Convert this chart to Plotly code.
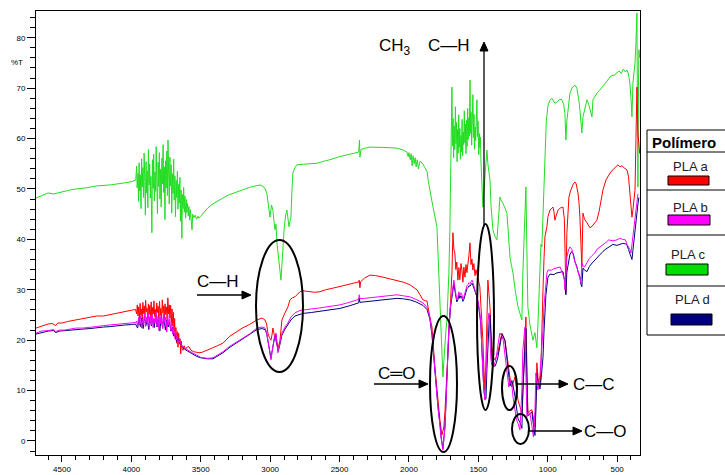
import math
import plotly.graph_objects as go

# ---------------- data (wavenumber cm-1, %T) ----------------
wn_c = [4687,4640,4600,4560,4520,4480,4440,4400,4330,4250,4150,4050,3990,
        3968,3962,3958,3952,3948,3944,3940,3935,3930,3926,3921,3917,3912,3908,3903,3899,3894,3890,3886,3881,3877,3872,3868,3863,3859,3852,3848,3843,3839,3834,3830,3825,3821,3816,3812,3807,3803,3798,3794,3789,3785,3780,3776,3771,3767,3762,3758,3753,3749,3744,3740,3736,3731,3727,3722,3718,3713,3709,3704,3700,3695,3691,3686,3682,3677,3673,3668,3664,3659,3655,3650,3646,3641,3636,3632,3627,3623,3618,3614,3609,3604,3600,3595,3590,3585,3580,3575,3570,3563,3558,3550,3540,3530,3520,3513,3500,3480,3450,3420,3380,3340,3300,3246,3200,3150,3100,3073,3050,3035,3023,3012,3001,2990,2980,2972,2965,2958,2951,2940,2930,2922,2915,2908,2898,2887,2879,2870,2864,2857,2850,2843,2836,2820,2807,2760,2700,2663,2600,2569,2500,2440,2390,2374,2362,2356,2353,2345,2330,2281,2200,2150,2086,2040,2014,2005,2000,1990,1984,1977,1970,1962,1955,1948,1940,1932,1921,1900,1885,1870,1860,1849,1827,1798,1784,1769,1762,1755,1748,1740,1733,1726,1719,1712,1705,1697,
        1690,1686,1682,1678,1674,1670,1665,1661,1657,1653,1649,1645,1641,1637,1633,1629,1625,1621,1617,1613,1609,1605,1601,1597,1593,1589,1585,1581,1577,1573,1569,1565,1560,1556,1552,1548,1544,1539,1535,1531,1527,1523,1519,1514,1510,1506,1502,1497,1493,1489,1485,1481,1474,1467,1460,1452,1445,1438,1431,1424,1416,1409,1402,1395,1380,1366,1355,1344,1333,1323,1308,1294,1283,1272,1261,1250,1232,1214,1200,1186,1179,1168,1157,1150,1143,1128,1114,1106,1092,1078,1070,1063,1056,1049,1042,1034,1027,1020,1010,998,985,970,958,948,930,915,898,885,876,869,862,854,847,840,825,804,790,782,775,768,760,754,746,730,717,705,696,688,681,674,660,640,624,600,573,545,520,501,485,470,455,440,429,418,408,400,393,386,378,371,364,357,353,350,346,343,337]
t_c = [48.2,48.8,49.2,49.0,49.3,49.6,49.8,50.0,50.2,50.6,50.8,51.2,51.5,
       51.8,54.5,50.2,53.1,47.5,55.2,49.6,52.8,46.1,56.0,50.4,54.2,48.3,57.1,51.5,44.8,55.4,49.2,53.6,46.3,57.8,50.8,54.9,48.2,52.5,41.3,55.8,50.1,56.9,47.6,53.4,49.5,58.4,51.2,45.1,55.3,50.5,57.2,48.0,53.9,46.4,56.1,51.0,58.8,49.3,54.4,43.9,55.6,50.2,57.5,48.7,59.7,52.1,47.0,56.3,50.6,54.8,45.2,53.0,49.1,55.9,47.8,52.6,44.5,51.7,48.3,53.5,46.0,50.9,47.2,52.3,43.6,49.8,40.2,48.9,46.1,50.3,45.4,48.6,44.2,47.9,45.3,47.1,44.6,46.5,43.8,45.9,44.1,41.9,45.0,44.3,44.8,44.0,44.6,44.2,44.6,45.3,46.2,46.9,47.6,48.2,48.8,49.4,49.8,50.3,50.6,50.8,50.5,50.0,49.0,46.5,44.4,46.8,45.8,43.5,41.9,43.0,39.3,36.5,34.0,31.9,35.0,38.5,42.5,45.0,45.8,43.8,42.5,43.6,44.4,49.5,53.2,54.3,54.8,54.9,55.0,55.1,55.6,55.8,56.4,56.8,57.0,57.1,57.3,59.7,56.3,57.8,58.0,58.3,58.3,58.2,58.1,57.7,57.3,56.4,57.2,55.8,57.0,54.6,56.6,55.0,56.2,54.4,55.8,54.0,55.5,55.0,54.2,53.5,51.5,49.5,46.5,42.5,33.3,24.6,18.5,12.7,16.0,20.0,22.0,24.0,28.5,33.3,42.0,57.7,
       70.2,58.5,64.0,56.2,62.5,57.8,66.3,59.0,63.2,55.4,61.8,57.1,64.7,58.3,62.0,55.9,60.6,57.4,63.8,56.6,61.3,58.8,65.5,59.2,62.9,57.0,63.6,58.4,66.0,59.8,64.1,60.5,71.6,61.0,65.2,58.7,63.4,68.7,60.2,64.8,57.9,62.3,59.6,63.0,67.7,60.4,63.5,56.8,61.0,58.2,60.3,55.5,51.8,46.4,49.5,53.0,55.4,57.7,55.0,53.2,51.8,47.0,43.5,41.9,40.6,39.9,44.0,48.4,47.6,47.2,46.2,45.2,41.0,36.5,34.8,33.3,29.5,26.6,25.3,24.0,33.3,42.0,50.4,38.0,26.6,23.0,21.0,20.0,21.5,18.5,23.4,28.0,36.0,39.0,38.5,45.0,53.0,59.1,63.5,66.5,67.6,68.0,67.5,67.0,67.3,67.8,67.7,66.8,65.0,59.7,63.5,65.7,67.5,69.0,70.0,70.6,70.0,69.0,67.5,65.7,63.0,61.1,64.3,66.5,67.7,66.8,65.7,65.0,64.3,67.7,68.3,69.2,69.6,70.5,71.6,72.4,72.6,73.0,73.4,72.9,73.8,73.2,73.6,72.8,71.0,68.0,64.3,71.0,73.5,75.0,79.0,84.9,62.0,50.4,70.0,77.6,76.0]

wn_a = [4687,4650,4600,4570,4545,4530,4500,4460,4420,4380,4330,4300,4250,4200,4150,4100,4050,4000,3970,
        3962,3957,3952,3947,3942,3937,3932,3927,3922,3917,3912,3907,3902,3897,3892,3887,3882,3877,3872,3867,3862,3857,3852,3847,3842,3837,3832,3827,3822,3817,3812,3807,3802,3797,3792,3787,3782,3777,3772,3767,3762,3757,3752,3747,3742,3737,3732,3727,3722,3717,3712,3707,3702,3697,3692,3688,3684,3679,3674,3669,3664,3659,3654,3649,3644,3640,3635,3628,3620,3610,3600,3585,3570,3550,3530,3513,3490,3460,3440,3412,3380,3340,3290,3246,3200,3150,3095,3059,3037,3025,3016,3005,2994,2987,2980,2970,2958,2944,2936,2929,2922,2915,2900,2893,2880,2872,2857,2840,2821,2800,2785,2764,2720,2680,2641,2600,2550,2497,2440,2400,2374,2362,2358,2353,2348,2320,2281,2240,2187,2140,2086,2040,1993,1970,1942,1920,1899,1880,1870,1849,1834,1813,1791,1776,1762,1755,1748,1740,1733,1726,1719,1712,1700,1690,1683,1676,1669,1662,1655,1647,1640,1633,1625,1618,1611,1604,1596,1589,1582,1575,1567,1560,1553,1546,1539,1532,1524,1517,1510,1500,1489,1480,1474,1467,1460,1452,1445,1438,1431,1423,1416,1409,1402,1391,1380,1370,1359,1345,1330,1320,1308,1297,1287,1272,1258,1247,1236,1225,1214,1200,1186,1179,1170,1164,1157,1150,1143,1128,1114,1103,1092,1085,1078,1070,1063,1056,1049,1042,1034,1027,1020,1006,998,984,970,962,955,948,940,926,910,890,880,876,869,862,855,847,836,826,815,804,795,782,775,768,760,754,746,735,717,705,696,680,660,646,630,615,602,580,560,545,530,515,494,480,465,450,440,429,418,408,400,393,386,378,371,364,357,350,343,337]
t_a = [22.4,22.8,23.2,23.3,22.9,23.4,23.4,23.7,23.9,24.1,24.3,24.6,24.8,24.8,25.1,25.3,25.6,25.9,26.1,
       25.2,27.0,24.8,26.6,24.1,27.3,25.0,26.2,23.8,27.5,25.3,26.8,24.4,27.9,25.6,26.4,23.9,27.2,25.1,26.9,24.6,27.6,24.0,26.5,25.2,27.8,24.7,26.1,23.6,27.4,25.5,26.7,24.2,27.7,25.0,26.3,23.5,28.0,25.4,26.8,24.5,27.2,25.1,26.6,23.9,28.4,25.2,27.0,24.3,26.9,23.4,26.2,22.8,25.5,21.6,24.3,20.2,22.5,19.4,21.7,18.6,21.4,19.2,20.3,17.3,19.8,18.4,18.0,18.9,18.2,18.6,18.7,18.0,17.7,17.6,17.5,17.6,17.9,18.2,18.5,18.9,19.4,20.8,21.6,22.4,23.1,24.0,24.4,24.0,23.2,21.4,20.5,20.0,21.0,22.4,21.0,19.6,18.5,19.2,20.0,22.0,24.0,25.0,25.4,26.0,26.6,28.0,28.4,28.6,29.2,29.6,29.8,29.6,29.5,29.6,30.0,30.3,30.6,31.0,31.3,31.5,31.5,31.9,30.4,31.6,32.3,32.9,32.8,32.5,32.2,31.9,31.5,31.0,30.6,30.0,29.0,28.0,27.8,27.8,24.5,22.6,14.7,8.1,4.0,1.2,1.8,2.8,6.0,10.0,13.5,18.0,22.6,29.0,33.3,41.3,38.0,37.3,34.0,35.5,31.9,34.4,32.0,35.2,33.9,31.5,34.5,32.5,35.0,33.4,35.9,37.0,39.3,35.0,36.1,33.9,35.2,32.8,34.0,33.3,32.0,30.6,27.0,24.5,20.0,14.5,10.1,16.0,24.6,31.9,29.0,26.6,22.0,18.7,16.5,16.1,16.8,17.5,19.5,21.4,20.8,20.0,17.8,15.5,12.5,10.7,11.8,12.7,10.5,8.1,6.8,5.6,9.5,16.0,22.0,24.6,15.0,5.6,6.0,6.2,4.5,2.8,8.0,15.5,12.5,11.5,10.7,14.5,25.0,30.0,36.0,40.5,42.5,44.5,45.8,46.2,46.4,45.5,43.8,44.6,45.8,46.2,46.4,44.0,39.9,29.4,41.3,46.0,48.4,49.6,50.4,51.0,51.4,51.0,49.2,47.5,44.4,40.0,34.5,45.2,44.0,43.3,42.6,42.3,42.6,43.2,43.8,45.5,47.8,49.8,51.8,52.8,53.4,53.8,54.2,54.8,54.4,54.6,54.2,54.0,53.8,52.5,49.2,46.5,44.4,45.8,47.5,49.8,60.0,70.2,61.1,58.0,57.0]

wn_b = [4687,4650,4600,4560,4545,4520,4480,4440,4400,4350,4300,4250,4200,4150,4100,4050,4000,3970,
        3962,3955,3948,3941,3934,3927,3920,3913,3906,3899,3892,3885,3878,3871,3864,3857,3850,3843,3836,3829,3822,3815,3808,3801,3794,3787,3780,3773,3766,3759,3752,3745,3738,3731,3724,3717,3710,3703,3696,3689,3682,3675,3668,3660,3650,3640,3628,3610,3585,3560,3530,3500,3484,3450,3412,3380,3340,3290,3246,3200,3150,3095,3059,3037,3025,3016,3005,2994,2987,2980,2970,2958,2951,2944,2936,2929,2915,2893,2872,2850,2821,2785,2764,2700,2641,2570,2497,2430,2374,2362,2358,2353,2320,2281,2200,2086,2040,1993,1950,1930,1899,1870,1849,1834,1813,1791,1776,1769,1755,1748,1740,1733,1726,1719,1712,1700,1690,1683,1676,1669,1662,1655,1647,1640,1633,1625,1618,1611,1604,1596,1589,1582,1575,1567,1560,1553,1546,1539,1532,1524,1517,1510,1500,1489,1482,1474,1467,1460,1452,1445,1438,1431,1423,1416,1409,1402,1391,1380,1370,1359,1345,1330,1320,1308,1297,1287,1280,1272,1258,1250,1236,1225,1214,1200,1186,1179,1164,1157,1150,1143,1128,1114,1103,1092,1085,1078,1070,1056,1045,1034,1027,1020,1013,1006,998,984,970,955,940,926,910,890,880,876,869,862,850,840,826,815,804,790,782,768,760,754,746,735,717,700,680,660,646,620,602,580,560,530,501,480,460,440,429,418,408,400,393,386,378,371,364,357,350,343]
t_b = [21.4,21.8,21.9,22.1,21.7,22.0,22.0,22.2,22.4,22.4,22.5,22.7,22.9,23.0,23.2,23.3,23.4,23.5,
       23.8,22.6,24.5,23.0,24.9,22.4,24.2,23.1,25.2,22.7,24.6,23.3,25.4,22.2,24.8,23.0,25.1,22.5,24.3,23.4,25.6,22.8,24.7,21.9,25.0,23.2,24.4,22.3,25.3,23.5,24.6,21.6,25.1,23.0,24.2,22.0,23.6,21.2,22.8,20.6,21.8,20.0,20.8,19.6,19.8,19.0,18.7,18.3,17.9,17.5,17.0,16.6,16.5,16.4,16.5,17.0,17.7,18.8,19.6,20.4,21.2,22.4,22.6,22.4,21.5,20.0,18.0,16.1,17.5,18.7,20.5,21.4,20.0,17.5,18.5,19.4,21.4,22.6,23.4,24.6,25.4,25.9,26.0,26.2,26.4,26.7,27.0,27.5,28.0,28.1,29.0,28.2,28.3,28.4,28.7,29.0,28.8,28.6,28.1,27.8,27.4,26.5,24.6,21.4,13.5,6.7,3.0,0.8,-1.8,0.5,2.8,7.5,13.5,18.0,22.6,27.0,29.4,31.0,31.9,30.5,29.0,28.0,28.5,29.6,28.8,29.4,29.0,28.1,28.6,29.5,30.2,30.8,31.0,31.4,31.2,31.6,31.9,31.5,30.8,30.0,29.4,29.0,27.5,25.5,23.4,18.0,13.5,10.0,8.1,14.0,20.0,23.5,25.4,20.0,16.1,15.0,14.7,15.6,16.7,19.0,21.4,20.8,20.0,17.0,14.7,12.0,10.7,12.1,11.0,8.7,6.5,4.2,3.5,2.2,10.1,18.0,22.6,12.0,4.8,5.2,5.6,3.0,0.8,6.0,13.5,11.5,10.1,13.0,16.7,22.0,26.6,29.5,31.4,33.3,33.9,33.9,33.9,34.2,34.3,34.4,34.5,33.0,32.0,30.0,34.5,36.5,37.9,38.5,38.0,36.5,35.5,34.5,33.5,32.0,31.4,35.3,34.8,34.5,35.5,36.2,36.8,37.3,38.0,38.5,39.0,39.4,39.9,39.7,39.9,40.2,40.0,39.9,39.0,38.5,38.0,37.3,39.0,41.3,42.5,44.4,46.0,47.8,49.0]

wn_d = [4687,4650,4600,4560,4545,4520,4480,4440,4400,4350,4300,4250,4200,4150,4100,4050,4000,3970,
        3955,3945,3935,3925,3915,3905,3895,3885,3875,3865,3855,3845,3835,3825,3815,3805,3795,3785,3775,3765,3755,3745,3735,3725,3715,3705,3695,3685,3675,3665,3650,3640,3628,3610,3585,3560,3530,3500,3484,3450,3412,3380,3340,3290,3246,3200,3150,3095,3059,3037,3025,3016,3005,2994,2987,2980,2970,2958,2951,2944,2936,2929,2915,2893,2872,2850,2821,2785,2764,2700,2641,2570,2497,2430,2374,2362,2358,2353,2320,2281,2200,2086,2040,1993,1950,1930,1899,1870,1849,1834,1813,1791,1776,1769,1755,1748,1740,1733,1726,1719,1712,1700,1690,1683,1676,1669,1662,1655,1647,1640,1633,1625,1618,1611,1604,1596,1589,1582,1575,1567,1560,1553,1546,1539,1532,1524,1517,1510,1500,1489,1482,1474,1467,1460,1452,1445,1438,1431,1423,1416,1409,1402,1391,1380,1370,1359,1345,1330,1320,1308,1297,1287,1280,1272,1258,1250,1236,1225,1214,1200,1186,1179,1164,1157,1150,1143,1128,1114,1103,1092,1085,1078,1070,1056,1045,1034,1027,1020,1013,1006,998,984,970,955,940,926,910,890,880,876,869,862,850,840,826,815,804,790,782,768,760,754,746,735,717,700,680,660,646,620,602,580,560,530,501,480,460,440,429,418,408,400,393,386,378,371,364,357,350,343]
t_d = [21.2,21.5,21.8,21.9,21.5,21.8,21.9,22.0,22.2,22.2,22.3,22.5,22.6,22.7,22.9,23.0,23.1,23.2,
       22.4,24.1,22.7,24.4,22.3,24.8,22.9,24.2,22.1,24.6,22.8,24.3,22.5,25.0,22.6,24.1,21.8,24.4,22.4,24.7,22.0,24.0,22.6,23.6,21.8,22.6,20.8,21.4,19.8,20.4,19.5,18.9,18.5,18.1,17.7,17.3,16.8,16.5,16.4,16.3,16.3,16.8,17.5,18.6,19.4,20.2,21.0,22.1,22.3,22.1,21.3,19.9,18.0,16.4,17.6,18.6,20.2,21.1,19.8,17.8,18.4,19.2,21.0,22.2,23.0,24.0,24.8,25.2,25.3,25.5,25.7,26.0,26.3,26.8,27.3,27.4,28.4,27.5,27.6,27.7,27.9,28.3,28.2,28.0,27.6,27.3,26.9,26.1,24.2,21.0,13.6,6.9,3.2,1.0,-1.5,0.8,3.0,7.6,13.4,17.8,22.3,26.6,29.0,30.4,31.2,29.9,28.5,27.6,28.0,29.0,28.3,28.8,28.4,27.7,28.1,28.9,29.6,30.2,30.4,30.8,30.7,31.0,31.3,30.9,30.3,29.5,29.0,28.6,27.2,25.2,23.2,18.1,13.6,10.2,8.4,8.3,14.2,19.8,23.2,25.0,19.8,16.0,15.0,14.8,15.5,16.6,18.8,21.2,20.6,19.9,17.1,14.8,12.2,10.9,12.0,11.1,8.9,6.7,4.4,3.7,2.5,10.0,17.8,22.3,12.1,5.0,5.4,5.8,3.2,1.1,6.2,13.4,11.6,10.3,13.1,16.6,21.6,26.0,28.9,30.7,32.5,33.1,33.0,33.0,33.3,33.4,33.5,33.6,32.0,30.8,29.0,33.5,35.6,37.0,37.6,37.1,35.6,34.6,33.6,32.6,31.0,30.6,34.3,33.9,33.6,34.6,35.3,35.9,36.4,37.1,37.6,38.1,38.5,39.0,38.8,39.0,39.2,39.1,38.9,38.0,37.3,36.8,36.0,37.8,40.3,41.6,43.6,45.2,47.0,48.3]

x_tick_vals = [4500, 4000, 3500, 3000, 2500, 2000, 1500, 1000, 500]
x_tick_text = ["4500", "4000", "3500", "3000", "2500", "2000", "1500", "1000", "500"]
y_tick_vals = [0, 10, 20, 30, 40, 50, 60, 70, 80]

legend_title = "Polímero"
legend_names = ["PLA a", "PLA b", "PLA c", "PLA d"]
legend_colors = ["#ff0000", "#ff00ff", "#00dd00", "#000080"]

# ---------------- geometry helpers (pixel -> paper) ----------------
W, H = 725, 475
PL, PR, PT, PB = 36, 640, 11, 455
def px(x): return (x - PL) / (PR - PL)
def py(y): return (PB - y) / (PB - PT)

fig = go.Figure()
series = [(wn_c, t_c, "#22dd22", "PLA c"), (wn_a, t_a, "#ff0000", "PLA a"),
          (wn_d, t_d, "#000080", "PLA d"), (wn_b, t_b, "#ff00ff", "PLA b")]
for xs, ys, col, nm in series:
    fig.add_trace(go.Scatter(x=xs, y=ys, mode="lines", name=nm,
                             line=dict(color=col, width=1), showlegend=False,
                             hoverinfo="skip"))

fig.update_layout(
    width=W, height=H,
    margin=dict(l=PL, r=W - PR, t=PT, b=H - PB, pad=0, autoexpand=False),
    paper_bgcolor="white", plot_bgcolor="white",
    font=dict(family="Arial, Liberation Sans, sans-serif", color="black"),
    xaxis=dict(range=[4687, 335], tickmode="array", tickvals=x_tick_vals, ticktext=x_tick_text,
               ticks="outside", ticklen=6, tickwidth=1, tickcolor="black", automargin=False,
               minor=dict(tickmode="linear", tick0=0, dtick=100, ticks="outside", ticklen=4, tickcolor="black"),
               showgrid=False, zeroline=False, showline=True, linecolor="black", linewidth=1,
               mirror=True, tickfont=dict(size=8)),
    yaxis=dict(range=[-2.78, 85.3], tickmode="array", tickvals=y_tick_vals,
               ticks="outside", ticklen=8, tickwidth=1, tickcolor="black", automargin=False,
               minor=dict(tickmode="linear", tick0=0, dtick=2, ticks="outside", ticklen=5, tickcolor="black"),
               showgrid=False, zeroline=False, showline=True, linecolor="black", linewidth=1,
               mirror=True, tickfont=dict(size=8)),
)

shapes = []
# ellipses around bands
for (x0, y0, x1, y1) in [(256, 240, 303, 372), (430, 316, 457, 452), (477, 224, 494, 410),
                         (502, 366, 517, 410), (512, 414, 529, 444)]:
    shapes.append(dict(type="circle", xref="paper", yref="paper", x0=px(x0), x1=px(x1),
                       y0=py(y1), y1=py(y0), line=dict(color="black", width=2)))

# arrows drawn as line + filled triangle head
def arrow(hx, hy, tx, ty, head=9, half=4):
    d = math.hypot(hx - tx, hy - ty)
    ux, uy = (hx - tx) / d, (hy - ty) / d
    bx, by = hx - ux * head, hy - uy * head
    shapes.append(dict(type="line", xref="paper", yref="paper", x0=px(tx), y0=py(ty),
                       x1=px(bx), y1=py(by), line=dict(color="black", width=1.3)))
    p1 = (bx - uy * half, by + ux * half)
    p2 = (bx + uy * half, by - ux * half)
    path = "M %f %f L %f %f L %f %f Z" % (px(hx), py(hy), px(p1[0]), py(p1[1]), px(p2[0]), py(p2[1]))
    shapes.append(dict(type="path", xref="paper", yref="paper", path=path,
                       fillcolor="black", line=dict(color="black", width=1)))

arrow(251, 295, 197, 295)
arrow(428, 384, 374, 384)
arrow(568, 384, 516, 384)
arrow(582, 431, 528, 431)
arrow(484, 42, 484, 226)

# legend table
LX0, LX1 = 647, 727
shapes.append(dict(type="rect", xref="paper", yref="paper", x0=px(LX0), x1=px(LX1),
                   y0=py(335), y1=py(130), line=dict(color="black", width=1)))
for yy in [152, 190, 235, 286]:
    shapes.append(dict(type="line", xref="paper", yref="paper", x0=px(LX0), x1=px(LX1),
                       y0=py(yy), y1=py(yy), line=dict(color="black", width=1)))
rects = [(668, 176, 709, 185), (668, 215, 710, 225), (666, 264, 708, 275), (671, 314, 712, 325)]
for (x0, y0, x1, y1), col in zip(rects, legend_colors):
    shapes.append(dict(type="rect", xref="paper", yref="paper", x0=px(x0), x1=px(x1),
                       y0=py(y1), y1=py(y0), fillcolor=col, line=dict(color="black", width=1)))
fig.update_layout(shapes=shapes)

ann = []
def txt(x, y, s, size=17, anchor="center", bold=False, color="black"):
    ann.append(dict(xref="paper", yref="paper", x=px(x), y=py(y), text=("<b>%s</b>" % s) if bold else s,
                    showarrow=False, xanchor=anchor, yanchor="middle",
                    font=dict(size=size, color=color, family="Arial, Liberation Sans, sans-serif")))

txt(218, 281, "C—H")
txt(397, 373, "C═O")
txt(594, 384, "C—C")
txt(605, 431, "C—O")
txt(377, 47, "CH<sub>3</sub>", anchor="left")
txt(449, 46, "C—H")
txt(17, 62, "%T", size=8)

txt(650, 143, legend_title, size=15, anchor="left", bold=True)
for (cx, cy), nm in zip([(690, 166), (690, 207), (688, 254), (692, 299)], legend_names):
    txt(cx, cy, nm, size=13, color="#222222")

fig.update_layout(annotations=ann)
fig.write_html("out.html")
